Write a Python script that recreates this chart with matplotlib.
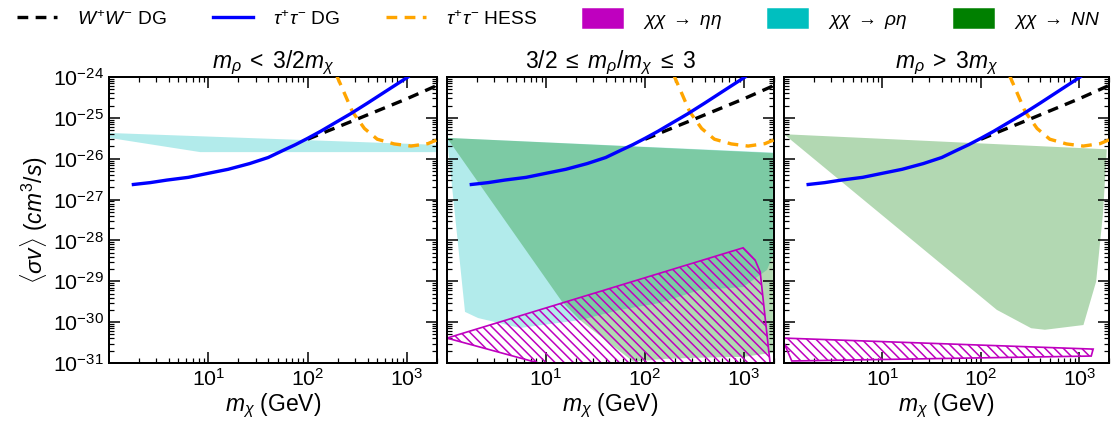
import matplotlib
matplotlib.use('Agg')
import matplotlib.pyplot as plt
from matplotlib.lines import Line2D
from matplotlib.patches import Patch
from matplotlib.ticker import LogLocator, NullFormatter

plt.rcParams['font.family'] = ['Liberation Sans', 'DejaVu Sans']
plt.rcParams['mathtext.fontset'] = 'custom'
plt.rcParams['mathtext.rm'] = 'Liberation Sans'
plt.rcParams['mathtext.it'] = 'Liberation Sans:italic'
plt.rcParams['mathtext.bf'] = 'Liberation Sans:bold'
plt.rcParams['hatch.linewidth'] = 1.0

# ---------------- data ----------------
# W+W- DG limit
ww_m = [100, 160, 300, 630, 1000, 2000]
ww_sv = [3.0e-26, 4.8e-26, 8.9e-26, 1.86e-25, 2.95e-25, 6.2e-25]
# tau+tau- DG limit
tau_m = [1.76, 2.6, 3.83, 6.3, 10, 15.8, 26, 40, 56, 75, 100, 135, 182, 270, 400, 630, 1020]
tau_sv = [2.34e-27, 2.6e-27, 3.0e-27, 3.5e-27, 4.4e-27, 5.5e-27, 7.6e-27, 1.07e-26,
          1.58e-26, 2.2e-26, 3.16e-26, 4.7e-26, 7.2e-26, 1.26e-25, 2.3e-25, 4.7e-25, 1.0e-24]
# tau+tau- HESS limit
hess_m = [195, 234, 282, 372, 501, 741, 1096, 1622, 2000]
hess_sv = [1.1e-24, 4.0e-25, 1.41e-25, 5.5e-26, 3.0e-26, 2.3e-26, 2.04e-26, 2.34e-26, 2.9e-26]

# panel 1 : chi chi -> rho eta region
p1_rhoeta_m = [1, 1950, 1950, 8.3, 1]
p1_rhoeta_sv = [4.27e-26, 2.19e-26, 1.45e-26, 1.45e-26, 3.24e-26]

# panel 2 regions
p2_rhoeta_m = [1, 2000, 2000, 1700, 977, 360, 142, 56, 22, 5.46, 2.06, 1.52]
p2_rhoeta_sv = [3.24e-26, 1.41e-26, 4.9e-29, 1.9e-29, 7.2e-30, 6.2e-30, 2.95e-30,
                2.0e-30, 1.12e-30, 7.2e-31, 1.26e-30, 1.78e-30]
p2_nn_m = [1, 1950, 1950, 977, 360, 158, 76, 40, 22, 14.5]
p2_nn_sv = [3.24e-26, 1.38e-26, 1.78e-31, 1.41e-31, 1.35e-31, 1.26e-31, 1.07e-31,
            3.6e-31, 1.12e-30, 3.16e-30]
p2_etaeta_m = [1, 977, 1290, 1450, 1820, 1900, 24]
p2_etaeta_sv = [4.07e-31, 6.6e-29, 3.3e-29, 1.7e-29, 1.07e-31, 5e-32, 5e-32]

# panel 3 regions
p3_nn_m = [1, 1900, 1740, 1480, 1100, 447, 324, 145]
p3_nn_sv = [3.98e-26, 1.7e-26, 4.7e-28, 9.8e-30, 8.5e-31, 6.5e-31, 7.1e-31, 2.0e-30]
p3_etaeta_m = [1, 1380, 1320, 1.2, 1]
p3_etaeta_sv = [4.07e-31, 2.19e-31, 1.48e-31, 1.12e-31, 3.1e-31]

titles = [r'$m_\rho\;<\;3/2m_\chi$', r'$3/2\;\leq\;m_\rho/m_\chi\;\leq\;3$', r'$m_\rho\;>\;3m_\chi$']
legend_labels = [r'$W^{+}W^{-}$ DG', r'$\tau^{+}\tau^{-}$ DG', r'$\tau^{+}\tau^{-}$ HESS',
                 r'$\chi\chi\;\rightarrow\;\eta\eta$', r'$\chi\chi\;\rightarrow\;\rho\eta$',
                 r'$\chi\chi\;\rightarrow\;NN$']
xticks = [10, 100, 1000]

# ---------------- figure ----------------
W, H, DPI = 1117, 423, 110
fig = plt.figure(figsize=(W / DPI, H / DPI), dpi=DPI)

rects = [(109, 328), (447, 327), (784, 325)]
axes = []
for (x0, w) in rects:
    ax = fig.add_axes([x0 / W, 60 / H, w / W, 286 / H])
    axes.append(ax)

CYAN = (0, 0.75, 0.75)
GREEN = (0, 0.5, 0)
MAG = (0.75, 0, 0.75)

def fill_region(ax, m, sv, color):
    ax.fill(m, sv, color=color, alpha=0.3, lw=0, zorder=1)

def hatch_region(ax, m, sv):
    ax.fill(m, sv, facecolor='none', edgecolor=MAG, hatch='\\\\\\\\', lw=1.1, zorder=2)

fill_region(axes[0], p1_rhoeta_m, p1_rhoeta_sv, CYAN)
fill_region(axes[1], p2_rhoeta_m, p2_rhoeta_sv, CYAN)
fill_region(axes[1], p2_nn_m, p2_nn_sv, GREEN)
hatch_region(axes[1], p2_etaeta_m, p2_etaeta_sv)
fill_region(axes[2], p3_nn_m, p3_nn_sv, GREEN)
hatch_region(axes[2], p3_etaeta_m, p3_etaeta_sv)

DASH = (0, (3.2, 2.2))
for i, ax in enumerate(axes):
    ax.plot(ww_m, ww_sv, color='black', lw=2.2, ls=DASH, zorder=3)
    ax.plot(tau_m, tau_sv, color='blue', lw=2.2, zorder=4)
    ax.plot(hess_m, hess_sv, color='orange', lw=2.2, ls=DASH, zorder=3)
    ax.set_xscale('log')
    ax.set_yscale('log')
    ax.set_xlim(1, 2000)
    ax.set_ylim(1e-31, 1e-24)
    ax.set_xticks(xticks)
    ax.yaxis.set_major_locator(LogLocator(base=10, numticks=20))
    ax.yaxis.set_minor_locator(LogLocator(base=10, subs=range(2, 10), numticks=20))
    ax.yaxis.set_minor_formatter(NullFormatter())
    ax.tick_params(which='both', direction='in', top=True, right=True, labelsize=14)
    ax.tick_params(which='major', length=7, width=1)
    ax.tick_params(which='minor', length=3.5, width=0.8)
    for sp in ax.spines.values():
        sp.set_linewidth(1.3)
    ax.set_title(titles[i], fontsize=15, pad=4)
    ax.set_xlabel(r'$m_\chi$ (GeV)', fontsize=15, labelpad=1)
    if i > 0:
        ax.set_yticklabels([])

axes[0].set_ylabel(r'$\langle \sigma v \rangle\ (cm^3/s)$', fontsize=15, labelpad=2)

handles = [
    Line2D([], [], color='black', lw=2.2, ls=DASH),
    Line2D([], [], color='blue', lw=2.2),
    Line2D([], [], color='orange', lw=2.2, ls=DASH),
    Patch(color=MAG),
    Patch(color=CYAN),
    Patch(color=GREEN),
]
fig.legend(handles, legend_labels, loc='upper center', bbox_to_anchor=(0.5, 1.005),
           ncol=6, frameon=False, fontsize=12.5, handlelength=2.1, handleheight=1.1,
           handletextpad=1.05, columnspacing=2.4, borderpad=0.1)

fig.savefig('out.png', dpi=DPI)
